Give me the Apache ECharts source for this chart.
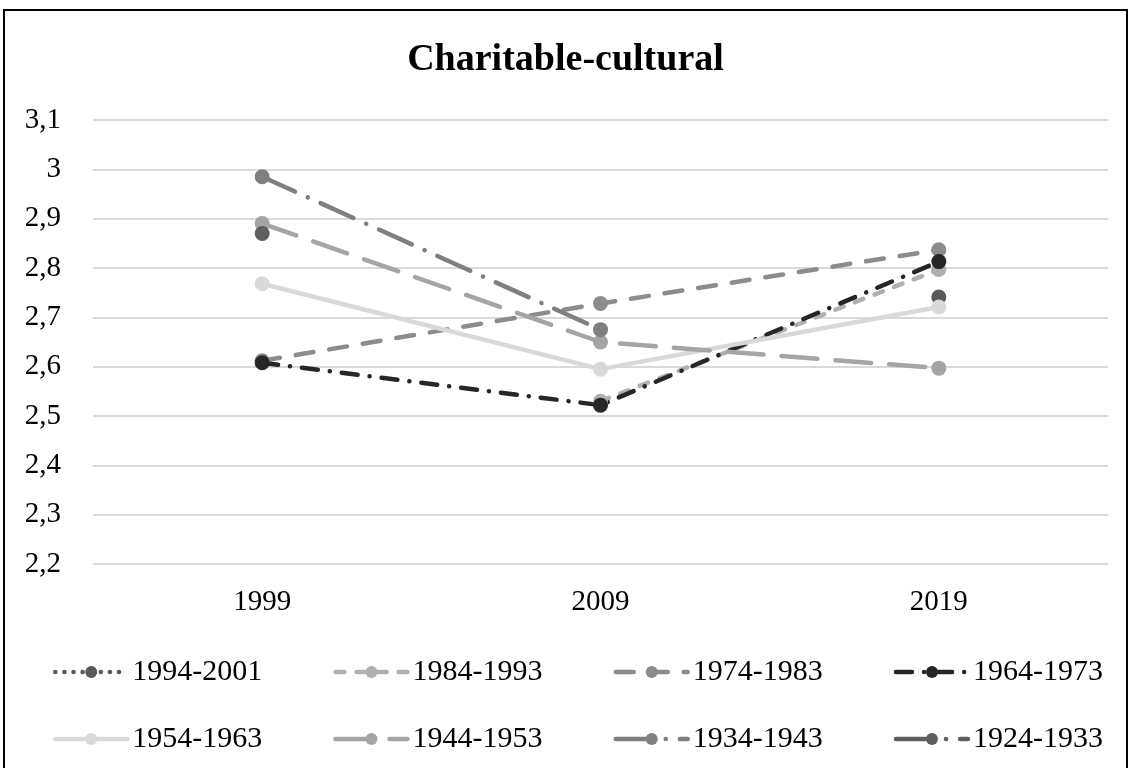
<!DOCTYPE html>
<html>
<head>
<meta charset="utf-8">
<title>Charitable-cultural</title>
<script src="https://cdn.jsdelivr.net/npm/echarts@6/dist/echarts.min.js"></script>
<style>
  html, body { margin: 0; padding: 0; background: #fff; }
  #chart { width: 1131px; height: 768px; }
</style>
</head>
<body>
<div id="chart"></div>
<script>
var years = ['1999', '2009', '2019'];

// cohort values per survey year (null = cohort not surveyed)
var c1994 = [null, null, 2.741];
var c1984 = [null, 2.53, 2.797];
var c1974 = [2.612, 2.728, 2.837];
var c1964 = [2.608, 2.522, 2.813];
var c1954 = [2.768, 2.595, 2.721];
var c1944 = [2.89, 2.65, 2.597];
var c1934 = [2.985, 2.675, null];
var c1924 = [2.87, null, null];

var names = ['1994-2001', '1984-1993', '1974-1983', '1964-1973',
             '1954-1963', '1944-1953', '1934-1943', '1924-1933'];

var yTicks = ['2,2', '2,3', '2,4', '2,5', '2,6', '2,7', '2,8', '2,9', '3', '3,1'];

var font = '"Liberation Serif", "DejaVu Serif", serif';

var myChart = echarts.init(document.getElementById('chart'));

function line(name, data, color, dash) {
  return {
    name: name,
    type: 'line',
    data: data,
    symbol: 'circle',
    symbolSize: 15,
    itemStyle: { color: color },
    lineStyle: { color: color, width: 4.5, type: dash, cap: 'round' },
    emphasis: { disabled: true },
    animation: false
  };
}

var legendBase = {
  left: 48,
  itemWidth: 72,
  itemHeight: 15,
  itemGap: 71,
  lineStyle: { width: 4.5, cap: 'round' },
  textStyle: { fontFamily: font, fontSize: 30, color: '#000' }
};

var option = {
  backgroundColor: '#ffffff',
  title: {
    text: 'Charitable-cultural',
    left: 'center',
    top: 36,
    textStyle: { fontFamily: font, fontSize: 38, fontWeight: 'bold', color: '#000' }
  },
  grid: { left: 93, right: 23, top: 120, bottom: 204 },
  xAxis: {
    type: 'category',
    data: years,
    boundaryGap: true,
    axisLine: { show: false },
    axisTick: { show: false },
    axisLabel: { margin: 24, fontFamily: font, fontSize: 29, color: '#000' }
  },
  yAxis: {
    type: 'value',
    min: 2.2,
    max: 3.1,
    interval: 0.1,
    axisLine: { show: false },
    axisTick: { show: false },
    splitLine: { lineStyle: { color: '#d9d9d9', width: 2 } },
    axisLabel: {
      margin: 32,
      fontFamily: font,
      fontSize: 29,
      color: '#000',
      formatter: function (v) {
        return yTicks[Math.round((v - 2.2) * 10)];
      }
    }
  },
  legend: [
    Object.assign({}, legendBase, { data: names.slice(0, 4), top: 652 }),
    Object.assign({}, legendBase, { data: names.slice(4), top: 719 })
  ],
  graphic: [{
    type: 'rect',
    shape: { x: 4, y: 10, width: 1123, height: 800 },
    style: { fill: null, stroke: '#000', lineWidth: 2 },
    silent: true
  }],
  series: [
    line(names[0], c1994, '#595959', [0.1, 9]),
    line(names[1], c1984, '#b0b0b0', [9, 12]),
    line(names[2], c1974, '#8c8c8c', [18, 16]),
    line(names[3], c1964, '#262626', [16, 12, 0.1, 12]),
    line(names[4], c1954, '#d9d9d9', 'solid'),
    line(names[5], c1944, '#a5a5a5', [36, 18]),
    line(names[6], c1934, '#7f7f7f', [36, 14, 0.1, 14]),
    line(names[7], c1924, '#5f5f5f', [36, 14, 0.1, 14])
  ]
};

if (option && typeof option === 'object') {
  myChart.setOption(option);
}

window.addEventListener('resize', myChart.resize);
</script>
</body>
</html>
